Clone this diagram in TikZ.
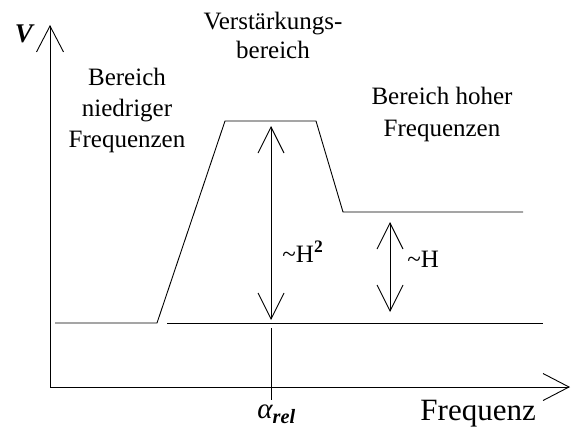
\documentclass[tikz,border=0pt]{standalone}
\usepackage{fontspec}
\setmainfont{Liberation Serif}
\usetikzlibrary{arrows.meta}
\begin{document}
\begin{tikzpicture}[x=1pt,y=-1pt, line width=0.9pt,
  barb/.style={-{Straight Barb[length=26pt,width=27pt]}},
  dbarb/.style={{Straight Barb[length=26pt,width=26pt]}-{Straight Barb[length=26pt,width=26pt]}},
  lbl/.style={font=\fontsize{25}{30}\selectfont, inner sep=0pt}]
\useasboundingbox (0,0) rectangle (577,428);
% axes
\coordinate (O) at (50,387);
\coordinate (ytip) at (50,25);
\coordinate (xtip) at (570,387);
\draw[barb] (O) -- (ytip);
\draw[barb] (O) -- (xtip);
% response curve
\coordinate (c1) at (55,323);
\coordinate (c2) at (157,323);
\coordinate (c3) at (225,121);
\coordinate (c4) at (316,121);
\coordinate (c5) at (343,212);
\coordinate (c6) at (523,212);
\draw (c1) -- (c2) -- (c3) -- (c4) -- (c5) -- (c6);
% reference base line
\coordinate (b1) at (167,323);
\coordinate (b2) at (543,323);
\draw (b1) -- (b2);
% marker
\coordinate (m1) at (271,328);
\coordinate (m2) at (271,400);
\draw (m1) -- (m2);
% double arrows
\coordinate (h2t) at (271,126);
\coordinate (h2b) at (271,320);
\draw[dbarb] (h2b) -- (h2t);
\coordinate (h1t) at (390,222);
\coordinate (h1b) at (390,312);
\draw[dbarb] (h1b) -- (h1t);
% labels
\node[inner sep=0pt, anchor=base, font=\fontsize{27}{32}\selectfont\bfseries\itshape] (V) at (24,43) {V};
\node[lbl, anchor=base] (l1a) at (127,85) {Bereich};
\node[lbl, anchor=base] (l1b) at (127,116) {niedriger};
\node[lbl, anchor=base] (l1c) at (127,147) {Frequenzen};
\node[lbl, anchor=base] (l2a) at (273,30) {Verstärkungs-};
\node[lbl, anchor=base] (l2b) at (273,59) {bereich};
\node[lbl, anchor=base] (l3a) at (442,104) {Bereich hoher};
\node[lbl, anchor=base] (l3b) at (442,136) {Frequenzen};
\node[lbl, anchor=base west] (H2) at (282,262) {\textasciitilde H\textsuperscript{\bfseries 2}};
\node[lbl, anchor=base west] (H1) at (407,267) {\textasciitilde H};
\node[lbl, anchor=base west, font=\fontsize{29}{34}\selectfont\itshape] (arel) at (257,418) {α\textsubscript{\bfseries rel}};
\node[inner sep=0pt, anchor=base west, font=\fontsize{31}{36}\selectfont] (fq) at (420,420) {Frequenz};
\end{tikzpicture}
\end{document}
